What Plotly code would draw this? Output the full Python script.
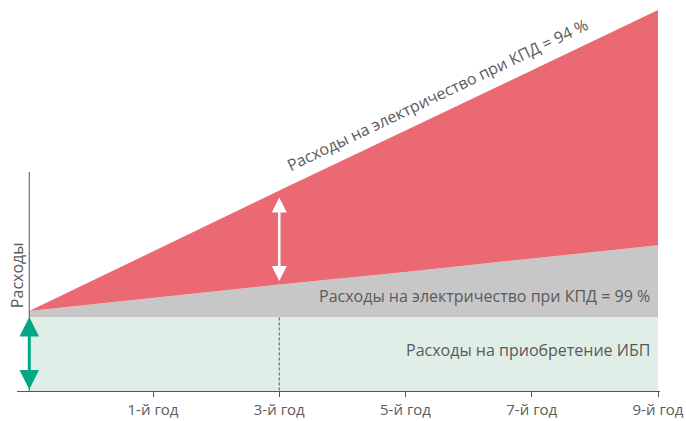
import plotly.graph_objects as go

# Data (arbitrary cost units)
years = [0.02, 1, 2, 3, 4, 5]
tick_labels = ["1-й год", "3-й год", "5-й год", "7-й год", "9-й год"]
ups_cost = [10, 10, 10, 10, 10, 10]
total_99 = [10.8, 12.6, 14.4, 16.1, 17.9, 19.7]
total_94 = [10.8, 18.9, 27.1, 35.2, 43.4, 51.5]

RED = "#EB6972"
GRAY = "#C7C7C7"
GREEN = "#DFEEE7"
TEAL = "#00A884"
TXT = "#5A5A5A"
AX = "#555555"
FONT = "Open Sans"

fig = go.Figure()
fig.add_trace(go.Scatter(x=years, y=ups_cost, mode="lines", line=dict(width=0),
                         fill="tozeroy", fillcolor=GREEN, hoverinfo="skip"))
fig.add_trace(go.Scatter(x=years, y=total_99, mode="lines", line=dict(width=0),
                         fill="tonexty", fillcolor=GRAY, hoverinfo="skip"))
fig.add_trace(go.Scatter(x=years, y=total_94, mode="lines", line=dict(width=0),
                         fill="tonexty", fillcolor=RED, hoverinfo="skip"))

# y axis line (custom, shorter than plot)
fig.add_shape(type="line", xref="x", yref="y", x0=years[0], x1=years[0], y0=-1.0, y1=29.6,
              line=dict(color=AX, width=1))
# dashed line at 3rd year
fig.add_shape(type="line", xref="x", yref="y", x0=years[2], x1=years[2], y0=-0.6, y1=ups_cost[2],
              line=dict(color=AX, width=1, dash="3px,2px"))

annotations = []
# green double arrow
annotations.append(dict(x=years[0], y=ups_cost[0], ax=years[0], ay=0, xref="x", yref="y",
                        axref="x", ayref="y", text="", showarrow=True, arrowhead=2,
                        arrowside="end+start", arrowwidth=3, arrowsize=1.3, arrowcolor=TEAL,
                        standoff=0, startstandoff=0))
# white double arrow
annotations.append(dict(x=years[2], y=total_94[2], ax=years[2], ay=total_99[2], xref="x", yref="y",
                        axref="x", ayref="y", text="", showarrow=True, arrowhead=2,
                        arrowside="end+start", arrowwidth=2.5, arrowsize=1.2, arrowcolor="white",
                        standoff=7, startstandoff=2))
annotations.append(dict(x=3.25, y=40.0, xref="x", yref="y", showarrow=False, textangle=-25.5,
                        text="Расходы на электричество при КПД = 94 %",
                        font=dict(family=FONT, size=16, color=TXT)))
annotations.append(dict(x=4.955, y=12.8, xref="x", yref="y", showarrow=False, xanchor="right",
                        text="Расходы на электричество при КПД = 99 %",
                        font=dict(family=FONT, size=16, color=TXT)))
annotations.append(dict(x=4.955, y=5.5, xref="x", yref="y", showarrow=False, xanchor="right",
                        text="Расходы на приобретение ИБП",
                        font=dict(family=FONT, size=16, color=TXT)))
annotations.append(dict(x=years[0], y=15.7, xref="x", yref="y", xshift=-12, showarrow=False,
                        textangle=-90, text="Расходы",
                        font=dict(family=FONT, size=16, color=TXT)))

fig.update_layout(
    width=686, height=421,
    margin=dict(l=17, r=26, t=10, b=30, autoexpand=False),
    paper_bgcolor="white", plot_bgcolor="white",
    showlegend=False,
    annotations=annotations,
    xaxis=dict(range=[-0.0773, 5.0158], tickvals=years[1:], ticktext=tick_labels,
               showgrid=False, zeroline=False, showline=True, linecolor=AX, linewidth=1,
               ticks="outside", ticklen=5, tickcolor=AX, automargin=False,
               tickfont=dict(family=FONT, size=15, color=TXT), fixedrange=True),
    yaxis=dict(range=[0, 51.5], showgrid=False, zeroline=False, showline=False,
               showticklabels=False, ticks="", automargin=False, fixedrange=True),
)

fig.write_html("out.html", config={"displayModeBar": False},
               post_script="document.body.style.margin='0';document.body.style.overflow='hidden';")
